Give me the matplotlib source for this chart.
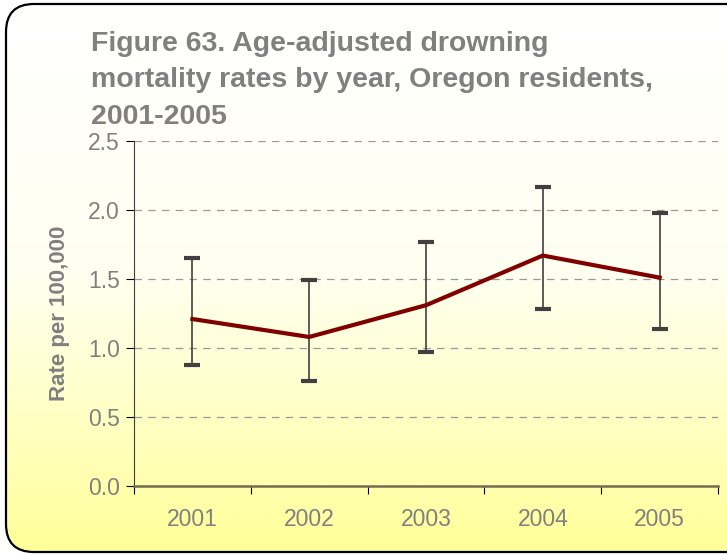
import numpy as np
import matplotlib
matplotlib.use("Agg")
import matplotlib.pyplot as plt
from matplotlib.patches import FancyBboxPatch
from matplotlib.colors import LinearSegmentedColormap

years = ["2001", "2002", "2003", "2004", "2005"]
rates = [1.21, 1.08, 1.31, 1.67, 1.51]
lower = [0.88, 0.76, 0.97, 1.28, 1.14]
upper = [1.65, 1.49, 1.77, 2.17, 1.98]
yticks = [0.0, 0.5, 1.0, 1.5, 2.0, 2.5]
title = "Figure 63. Age-adjusted drowning\nmortality rates by year, Oregon residents,\n2001-2005"
ylabel = "Rate per 100,000"

plt.rcParams['font.family'] = ['Liberation Sans', 'DejaVu Sans']
W, H = 727, 555
fig = plt.figure(figsize=(W/100, H/100), dpi=100)
fig.patch.set_facecolor('white')

# background with gradient and rounded border
bg = fig.add_axes([0, 0, 1, 1])
bg.set_xlim(0, W); bg.set_ylim(0, H)
bg.axis('off')
cmap = LinearSegmentedColormap.from_list('g', ['#FFFFFF', '#FFFFF0', '#FFFF99'])
grad = np.linspace(0, 1, 256).reshape(-1, 1)
box = FancyBboxPatch((6, 3), 760, 548, boxstyle="round,pad=0,rounding_size=28",
                     facecolor='none', edgecolor='black', linewidth=1.6, zorder=3)
bg.add_patch(box)
im = bg.imshow(grad, cmap=cmap, aspect='auto', extent=[6, 766, 3, 551], origin='upper', zorder=1)
im.set_clip_path(box)

fig.text(91/W, 1 - 31/H, title, ha='left', va='top', fontsize=20.5, fontweight='bold',
         color='#808080', linespacing=1.52)

ax = fig.add_axes([134/W, 1 - 486/H, (718-134)/W, (486-141)/H])
ax.patch.set_alpha(0)
x = np.arange(len(years))
yerr = [np.array(rates) - np.array(lower), np.array(upper) - np.array(rates)]
ax.errorbar(x, rates, yerr=yerr, fmt='none', ecolor='#404040', elinewidth=1.2,
            capsize=6, capthick=3, zorder=3)
ax.plot(x, rates, color='#800000', linewidth=3.0, zorder=4)

ax.set_xlim(-0.5, len(years) - 0.5)
ax.set_ylim(0, 2.5)
ax.set_yticks(yticks)
ax.set_yticklabels([f"{v:.1f}" for v in yticks])
ax.set_xticks(np.arange(-0.5, len(years), 1.0))
ax.set_xticklabels([])
ax.set_xticks(x, minor=True)
ax.set_xticklabels(years, minor=True)
ax.tick_params(axis='x', which='minor', length=0, pad=16, labelsize=16.5, labelcolor='#808080')
ax.tick_params(axis='x', which='major', length=6, direction='out', color='black')
ax.tick_params(axis='y', length=6, direction='out', labelsize=16.5, labelcolor='#808080', pad=4)
ax.yaxis.grid(True, linestyle=(0, (6, 5)), color='#999999', linewidth=0.9)
ax.set_axisbelow(True)
for s in ['top', 'right']:
    ax.spines[s].set_visible(False)
ax.spines['left'].set_color('#404040')
ax.spines['bottom'].set_color('#707050')
ax.spines['bottom'].set_linewidth(1.8)
ax.set_ylabel(ylabel, fontsize=16, fontweight='bold', color='#808080', labelpad=13)

caps = [l for l in ax.lines if l.get_marker() == '_']
for c in caps:
    c.set_color('#808080')

fig.savefig('out.png', dpi=100)
